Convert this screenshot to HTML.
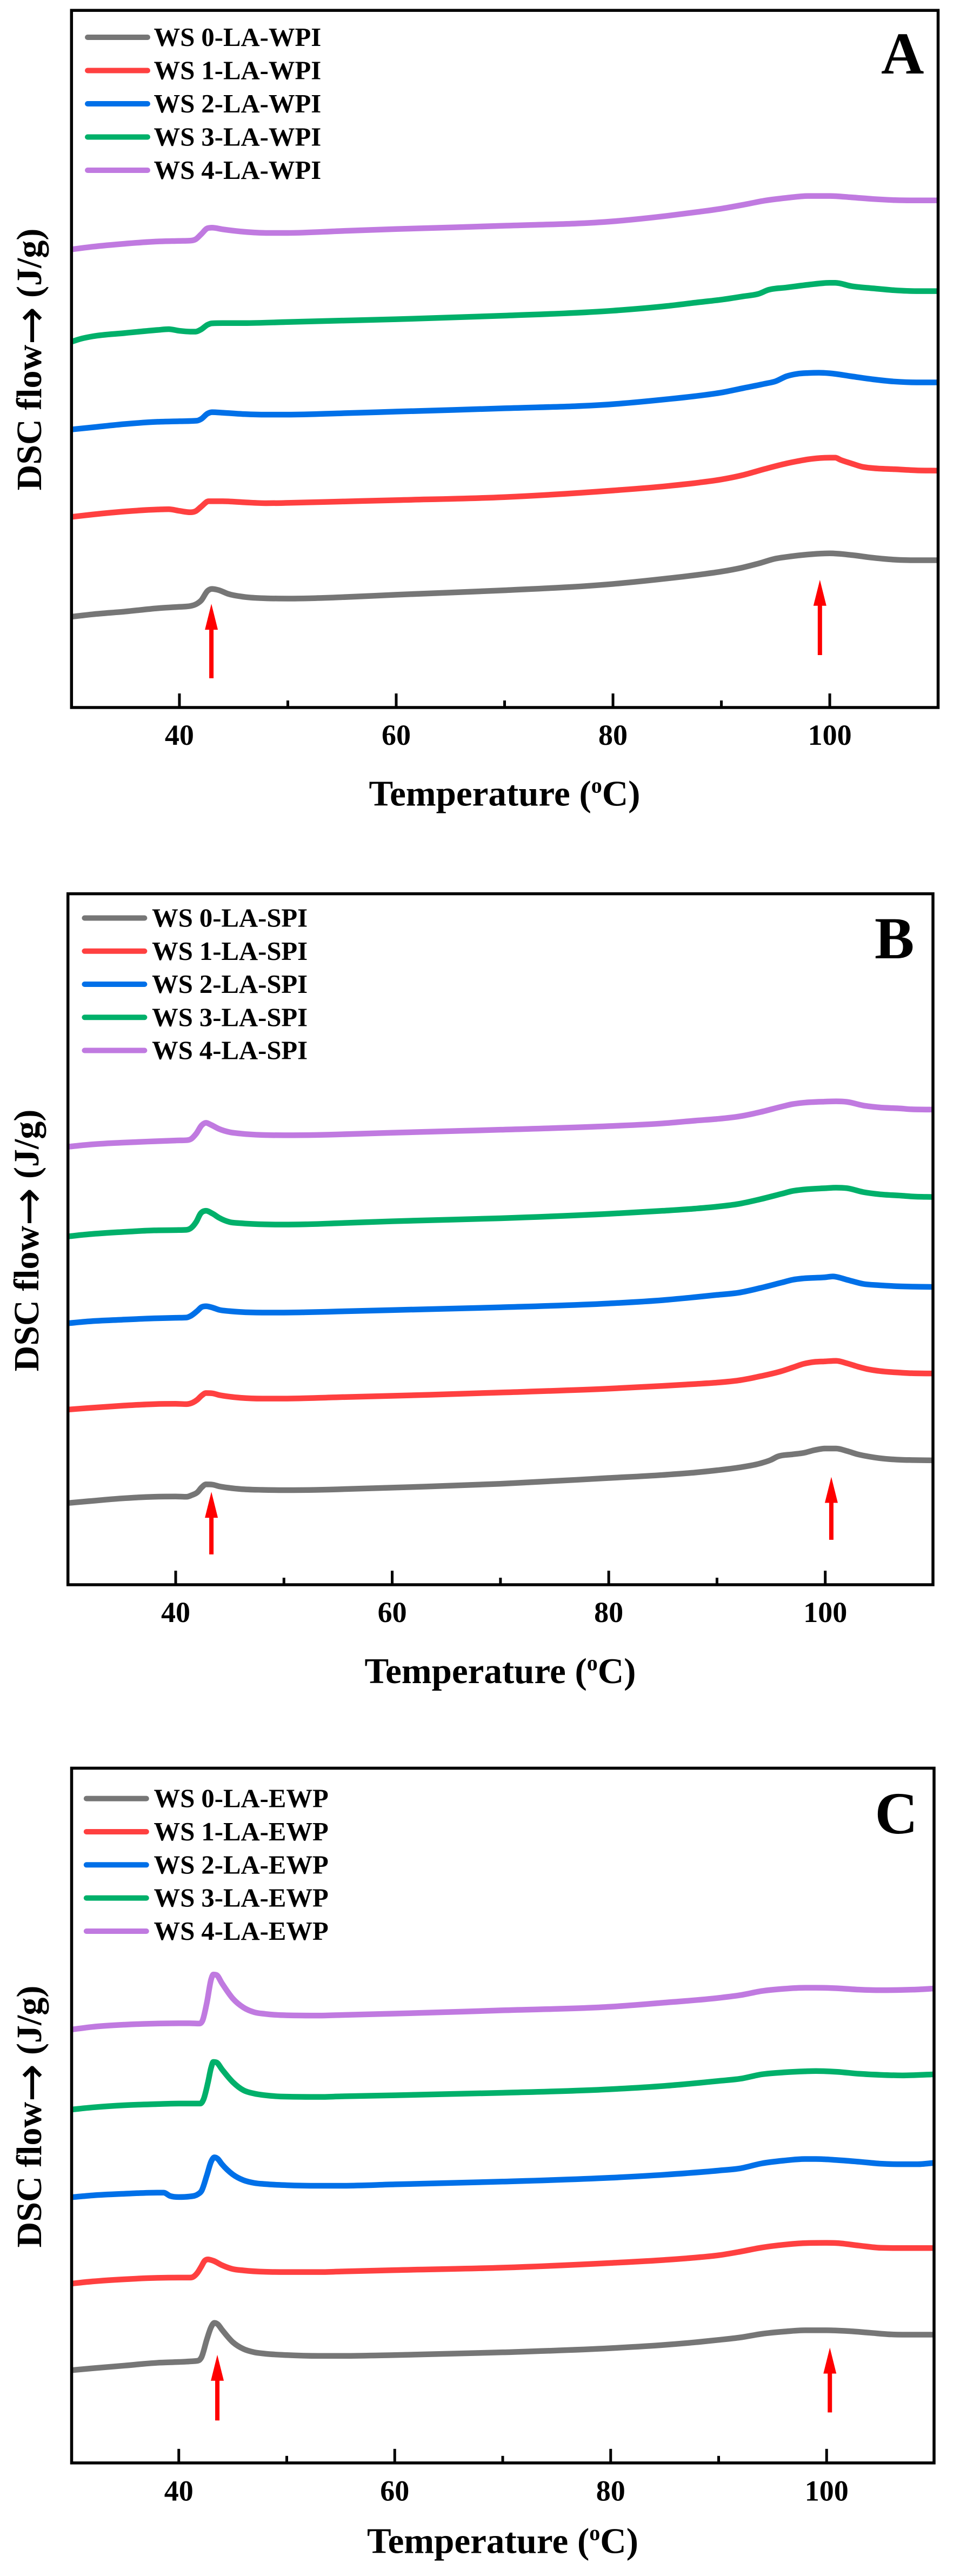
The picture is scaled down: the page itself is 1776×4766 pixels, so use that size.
<!DOCTYPE html>
<html lang="en">
<head>
<meta charset="utf-8">
<title>DSC thermograms A, B, C</title>
<style>
html,body{margin:0;padding:0;background:#fff}
svg{display:block}
text{font-family:"Liberation Serif","Times New Roman",serif;font-weight:bold;fill:#000}
.arrow-glyph{font-family:"DejaVu Sans",sans-serif;font-weight:normal}
</style>
</head>
<body>
<svg id="figure" xmlns="http://www.w3.org/2000/svg" width="1776" height="4766" viewBox="0 0 1776 4766">
  <rect x="0" y="0" width="1776" height="4766" fill="#fff"/>
  <text x="933.5" y="1490.7" font-size="67" text-anchor="middle">Temperature (<tspan font-size="40" dy="-24">o</tspan><tspan dy="24">C)</tspan></text>
  <text x="925.5" y="3114" font-size="67" text-anchor="middle">Temperature (<tspan font-size="40" dy="-24">o</tspan><tspan dy="24">C)</tspan></text>
  <text x="930" y="4723.6" font-size="67" text-anchor="middle">Temperature (<tspan font-size="40" dy="-24">o</tspan><tspan dy="24">C)</tspan></text>
  <text transform="translate(76 665) rotate(-90)" font-size="66" text-anchor="middle" xml:space="preserve">DSC flow<tspan class="arrow-glyph" font-size="84" dy="10">→</tspan><tspan dy="-10"> (J/g)</tspan></text>
  <text transform="translate(71 2295) rotate(-90)" font-size="66" text-anchor="middle" xml:space="preserve">DSC flow<tspan class="arrow-glyph" font-size="84" dy="10">→</tspan><tspan dy="-10"> (J/g)</tspan></text>
  <text transform="translate(76 3916) rotate(-90)" font-size="66" text-anchor="middle" xml:space="preserve">DSC flow<tspan class="arrow-glyph" font-size="84" dy="10">→</tspan><tspan dy="-10"> (J/g)</tspan></text>
  <text x="1630" y="136" font-size="110">A</text>
  <text x="1618" y="1773" font-size="110">B</text>
  <text x="1618.5" y="3392" font-size="110">C</text>
</svg>
<script>
// Shared axis data
const majorTicks = [40, 60, 80, 100];
const minorTicks = [50, 70, 90];
const seriesColors = ['#767676', '#ff4040', '#0070e8', '#00b06a', '#c07ae0'];

// Panel A: WPI
const labelsA = ['WS 0-LA-WPI', 'WS 1-LA-WPI', 'WS 2-LA-WPI', 'WS 3-LA-WPI', 'WS 4-LA-WPI'];
const tempA0 = [30,32,35,38,40,41,41.6,42,42.6,43,43.6,44.5,46,48,50,52,55,60,70,80,85,88,90,92,93.5,95,96,98,100,102,104,106,108,110];
const flowA0 = [329,338,348,360,365,368,376,388,423,430,426,412,401,396,395,396,400,409,425,448,468,482,493,508,523,540,546,555,559,553,543,536,534,534];
const tempA1 = [30,32,35,38,39,40,41,41.5,42,42.7,44,46,48,50,55,60,70,80,85,88,90,92,94,96,97,98,100,100.5,101,102,103,104,106,108,110];
const flowA1 = [691,700,711,718,719,713,708,712,728,748,748,744,741,742,747,752,763,787,803,816,827,843,865,885,893,900,906,906,898,885,873,868,864,860,859];
const tempA2 = [30,32,35,38,40,41.6,42,42.6,43,44,46,48,50,55,60,70,80,85,88,90,92,94,95,96,97,98,99,100,102,104,106,108,110];
const flowA2 = [1008,1016,1028,1036,1038,1040,1046,1066,1071,1069,1064,1062,1062,1067,1073,1085,1100,1118,1131,1142,1158,1174,1183,1201,1210,1213,1214,1212,1201,1190,1182,1179,1179];
const tempA3 = [30,31,32,35,38,39,40,41,41.5,42,42.6,43,44,46,50,55,60,70,80,85,88,90,92,93.5,94.3,96,98,100,100.5,102,104,106,108,110];
const flowA3 = [1326,1338,1346,1358,1369,1372,1366,1363,1363,1371,1388,1393,1394,1394,1398,1403,1408,1421,1439,1456,1470,1479,1491,1501,1514,1523,1533,1540,1540,1528,1520,1513,1510,1510];
const tempA4 = [30,32,35,38,40,41,41.5,42,42.6,43,44,46,48,50,55,60,70,80,85,88,90,92,94,96,98,100,102,104,106,108,110];
const flowA4 = [1661,1671,1682,1690,1692,1693,1698,1716,1738,1740,1734,1725,1721,1721,1728,1735,1747,1763,1783,1798,1809,1823,1838,1848,1855,1855,1850,1844,1840,1839,1839];
const arrowTempsA = [42.95, 99.09];
const arrowTipsA = [376, 463];
const arrowTailsA = [106, 190];

// Panel B: SPI
const labelsB = ['WS 0-LA-SPI', 'WS 1-LA-SPI', 'WS 2-LA-SPI', 'WS 3-LA-SPI', 'WS 4-LA-SPI'];
const tempB0 = [30,32,35,38,40,41,41.5,42,42.4,42.8,43.4,44,45,46,48,50,53,55,60,70,80,85,88,90,92,94,95,95.6,97,98,99,100,101,102,103,104,105,107,108,110];
const flowB0 = [296,303,313,319,320,319,325,335,353,364,363,357,351,347,344,343,344,346,352,366,387,398,407,415,425,440,453,465,473,478,488,494,494,485,473,465,459,453,452,451];
const tempB1 = [30,32,35,38,40,41,41.6,42,42.4,42.8,43.4,44,45,46,48,50,55,60,70,80,85,88,90,92,94,96,97,98,99,100,101,102,103,104,105,107,108,110];
const flowB1 = [635,641,649,655,656,655,661,671,686,695,694,688,682,678,675,675,680,685,697,711,721,728,733,741,756,775,788,801,808,810,812,803,791,781,775,769,767,766];
const tempB2 = [30,32,35,38,40,41,41.4,42,42.4,42.8,43.4,44,45,46,48,50,52,55,60,70,80,85,88,90,92,94,96,97,98,100,100.7,102,103.5,105,107,108,110];
const flowB2 = [948,955,961,966,968,969,975,993,1007,1010,1005,997,992,989,987,987,988,991,996,1006,1020,1032,1043,1051,1059,1076,1096,1106,1111,1115,1118,1106,1091,1086,1082,1081,1080];
const tempB3 = [30,32,35,38,40,41,41.4,41.9,42.3,42.8,43.4,44,45,46,48,50,52,55,60,70,80,85,88,90,92,94,96,97,98,100,101,102,103.5,105,107,108,110];
const flowB3 = [1263,1271,1279,1285,1286,1287,1293,1316,1346,1356,1346,1331,1315,1311,1307,1306,1307,1311,1318,1329,1345,1356,1364,1371,1381,1398,1418,1428,1433,1438,1440,1438,1424,1416,1411,1408,1406];
const tempB4 = [30,32,35,38,40,41,41.4,41.9,42.4,42.8,43.2,44,45,46,48,50,53,55,60,70,80,85,88,90,92,94,96,97,98,100,101,102,103.5,105,107,108,110];
const flowB4 = [1588,1596,1603,1608,1611,1612,1616,1636,1666,1675,1669,1653,1641,1636,1631,1630,1631,1633,1639,1650,1663,1673,1683,1689,1698,1714,1734,1743,1748,1752,1753,1751,1738,1731,1727,1724,1723];
const arrowTempsB = [43.3, 100.56];
const arrowTipsB = [337, 391];
const arrowTailsB = [110, 163];

// Panel C: EWP
const labelsC = ['WS 0-LA-EWP', 'WS 1-LA-EWP', 'WS 2-LA-EWP', 'WS 3-LA-EWP', 'WS 4-LA-EWP'];
const tempC0 = [30,32,35,38,40,41,41.8,42.1,42.6,43,43.3,43.6,44,45,46,47,48,50,53,55,60,70,80,85,88,90,92,94,96,98,100,102,104,106,108,110];
const flowC0 = [336,343,353,363,366,368,371,383,448,493,508,503,483,438,413,401,396,391,388,388,391,401,416,428,438,446,455,468,476,481,481,478,472,466,465,465];
const tempC1 = [30,32,35,38,40,41,41.3,41.7,42.1,42.4,42.7,43.2,44,45,46,48,50,53,55,60,70,80,85,88,90,92,94,96,98,100,101,103,105,107,110];
const flowC1 = [650,658,666,671,672,672,674,688,713,733,738,733,717,703,698,693,692,692,694,699,708,725,736,745,753,766,781,791,797,798,797,788,780,779,779];
const tempC2 = [30,32,35,38,38.6,39.2,40,41,41.8,42.1,42.6,43,43.3,43.6,44,45,46,47,48,50,53,55,60,70,80,85,90,92,94,96,98,99,101,103,105,107,108.4,110];
const flowC2 = [963,970,976,980,980,968,964,966,975,986,1043,1093,1108,1103,1083,1046,1025,1015,1011,1007,1005,1005,1010,1020,1034,1045,1060,1068,1086,1096,1102,1102,1098,1092,1085,1083,1083,1088];
const tempC3 = [30,32,35,38,40,41,42,42.3,42.7,43,43.2,43.5,44,45,46,47,48,50,53,55,60,70,80,85,90,92,94,96,98,99,101,103,105,107,110];
const flowC3 = [1281,1289,1297,1301,1303,1303,1303,1319,1379,1434,1454,1452,1427,1381,1351,1339,1333,1328,1327,1329,1333,1342,1355,1367,1385,1393,1409,1416,1420,1421,1418,1411,1407,1405,1409];
const tempC4 = [30,32,35,38,40,41,41.9,42.2,42.6,43,43.2,43.5,44,45,46,47,48,50,53,55,60,70,80,85,90,92,94,96,98,99,101,103,105,108,110];
const flowC4 = [1571,1581,1589,1593,1594,1594,1593,1604,1669,1754,1771,1769,1739,1684,1651,1634,1628,1623,1622,1624,1629,1641,1654,1669,1686,1696,1711,1719,1723,1723,1721,1716,1714,1716,1720];
const arrowTempsC = [43.57, 100.3];
const arrowTipsC = [392, 418];
const arrowTailsC = [154, 183];

const SVG_NS = 'http://www.w3.org/2000/svg';
const figure = document.getElementById('figure');

function make(tag, attrs, parent) {
  const el = document.createElementNS(SVG_NS, tag);
  for (const k in attrs) el.setAttribute(k, attrs[k]);
  parent.appendChild(el);
  return el;
}

// Monotone cubic path through data points
function monotonePath(xs, ys) {
  const n = xs.length;
  const d = [], m = new Array(n);
  for (let i = 0; i < n - 1; i++) d.push((ys[i + 1] - ys[i]) / (xs[i + 1] - xs[i]));
  m[0] = d[0];
  m[n - 1] = d[n - 2];
  for (let i = 1; i < n - 1; i++) {
    if (d[i - 1] * d[i] <= 0) { m[i] = 0; continue; }
    const h0 = xs[i] - xs[i - 1], h1 = xs[i + 1] - xs[i];
    m[i] = (d[i - 1] * h1 + d[i] * h0) / (h0 + h1);
    const lim = 2.5 * Math.min(Math.abs(d[i - 1]), Math.abs(d[i]));
    if (Math.abs(m[i]) > lim) m[i] = Math.sign(m[i]) * lim;
  }
  let p = 'M' + xs[0].toFixed(2) + ' ' + ys[0].toFixed(2);
  for (let i = 0; i < n - 1; i++) {
    const h = (xs[i + 1] - xs[i]) / 3;
    p += 'C' + (xs[i] + h).toFixed(2) + ' ' + (ys[i] + m[i] * h).toFixed(2) + ' ' +
         (xs[i + 1] - h).toFixed(2) + ' ' + (ys[i + 1] - m[i + 1] * h).toFixed(2) + ' ' +
         xs[i + 1].toFixed(2) + ' ' + ys[i + 1].toFixed(2);
  }
  return p;
}

function drawPanel(cfg) {
  const g = make('g', {}, figure);
  
  

  const x = t => cfg.x30 + (t - 30) * (cfg.x110 - cfg.x30) / 80;
  const y = v => cfg.bottom - v * (cfg.bottom - cfg.top) / cfg.flowMax;

  // Clip so curves end flush with frame
  const clipId = 'clip-' + cfg.id;
  const defs = make('defs', {}, g);
  const clip = make('clipPath', { id: clipId }, defs);
  make('rect', { x: cfg.left, y: cfg.top, width: cfg.right - cfg.left, height: cfg.bottom - cfg.top }, clip);

  // Curves
  const curves = make('g', { 'clip-path': 'url(#' + clipId + ')' }, g);
  
  
  cfg.series.forEach((s, i) => {
    const path = make('path', {
      d: monotonePath(s.temp.map(x), s.flow.map(y)),
      fill: 'none',
      stroke: seriesColors[i],
      'stroke-width': 10.5,
      'stroke-linejoin': 'round'
    }, curves);
    
    
  });

  // Arrows
  cfg.arrowTemps.forEach((t, i) => {
    const ax = x(t), tip = y(cfg.arrowTips[i]), tail = y(cfg.arrowTails[i]);
    const arrow = make('g', {}, g);
    
    
    make('line', { x1: ax, x2: ax, y1: tip + 46, y2: tail, stroke: '#ff0000', 'stroke-width': 8 }, arrow);
    make('polygon', {
      points: ax + ',' + tip + ' ' + (ax + 12) + ',' + (tip + 48) + ' ' + (ax - 12) + ',' + (tip + 48),
      fill: '#ff0000'
    }, arrow);
  });

  // Frame
  const frame = make('rect', {
    x: cfg.left, y: cfg.top, width: cfg.right - cfg.left, height: cfg.bottom - cfg.top,
    fill: 'none', stroke: '#000', 'stroke-width': 5.5
  }, g);
  
  

  // Ticks
  majorTicks.forEach(t => {
    const tick = make('line', { x1: x(t), x2: x(t), y1: cfg.bottom, y2: cfg.bottom - 26, stroke: '#000', 'stroke-width': 5 }, g);
    
    
    const label = make('text', { x: x(t), y: cfg.tickBaseline, 'font-size': 54, 'text-anchor': 'middle' }, g);
    label.textContent = String(t);
    
    
  });
  minorTicks.forEach(t => {
    const tick = make('line', { x1: x(t), x2: x(t), y1: cfg.bottom, y2: cfg.bottom - 13, stroke: '#000', 'stroke-width': 5 }, g);
    
    
  });

  // Legend
  cfg.labels.forEach((name, i) => {
    const ly = cfg.legendFirst + i * cfg.legendStep;
    const entry = make('g', {}, g);
    
    
    make('line', {
      x1: cfg.legendX + 5, x2: cfg.legendX + 116, y1: ly, y2: ly,
      stroke: seriesColors[i], 'stroke-width': 10, 'stroke-linecap': 'round'
    }, entry);
    const txt = make('text', { x: cfg.legendTextX, y: ly + 16, 'font-size': 48.7 }, entry);
    txt.textContent = name;
    
    
  });
}

drawPanel({
  id: 'a', x30: 131.4, x110: 1735.6, left: 132.3, right: 1735.5, top: 19.2, bottom: 1309, flowMax: 2528,
  tickBaseline: 1378, legendX: 157, legendTextX: 284.5, legendFirst: 69, legendStep: 61.5, labels: labelsA,
  arrowTemps: arrowTempsA, arrowTips: arrowTipsA, arrowTails: arrowTailsA,
  series: [
    { temp: tempA0, flow: flowA0 }, { temp: tempA1, flow: flowA1 }, { temp: tempA2, flow: flowA2 },
    { temp: tempA3, flow: flowA3 }, { temp: tempA4, flow: flowA4 }
  ]
});
drawPanel({
  id: 'b', x30: 124.7, x110: 1727, left: 125.7, right: 1726, top: 1653.6, bottom: 2932, flowMax: 2505.7,
  tickBaseline: 3001, legendX: 151.4, legendTextX: 281, legendFirst: 1698.5, legendStep: 61.25, labels: labelsB,
  arrowTemps: arrowTempsB, arrowTips: arrowTipsB, arrowTails: arrowTailsB,
  series: [
    { temp: tempB0, flow: flowB0 }, { temp: tempB1, flow: flowB1 }, { temp: tempB2, flow: flowB2 },
    { temp: tempB3, flow: flowB3 }, { temp: tempB4, flow: flowB4 }
  ]
});
drawPanel({
  id: 'c', x30: 131, x110: 1729, left: 132.5, right: 1728, top: 3271.4, bottom: 4556.8, flowMax: 2519,
  tickBaseline: 4626.7, legendX: 154.8, legendTextX: 284.5, legendFirst: 3327.6, legendStep: 61.35, labels: labelsC,
  arrowTemps: arrowTempsC, arrowTips: arrowTipsC, arrowTails: arrowTailsC,
  series: [
    { temp: tempC0, flow: flowC0 }, { temp: tempC1, flow: flowC1 }, { temp: tempC2, flow: flowC2 },
    { temp: tempC3, flow: flowC3 }, { temp: tempC4, flow: flowC4 }
  ]
});
</script>
</body>
</html>
